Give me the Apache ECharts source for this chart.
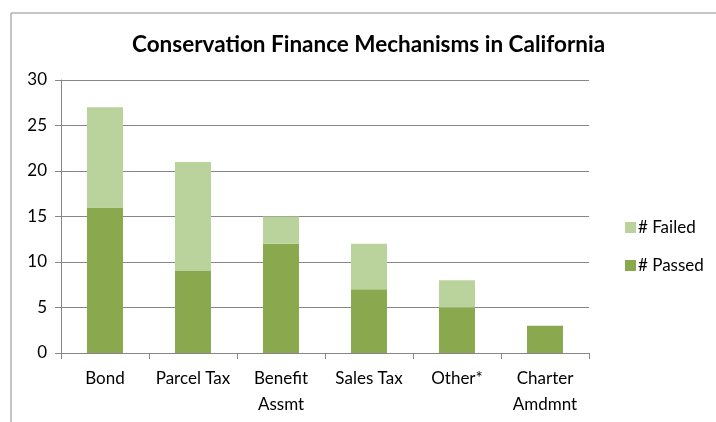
<!DOCTYPE html>
<html><head><meta charset="utf-8">
<script src="https://cdn.jsdelivr.net/npm/echarts@6/dist/echarts.min.js"></script>
<style>html,body{margin:0;padding:0;background:#fff}#c{width:716px;height:422px}</style>
</head><body><div id="c"></div>
<script>
const categories = ['Bond', 'Parcel Tax', 'Benefit\nAssmt', 'Sales Tax', 'Other*', 'Charter\nAmdmnt'];
const passed = [16, 9, 12, 7, 5, 3];
const failed = [11, 12, 3, 5, 3, 0];
const yTicks = [0, 5, 10, 15, 20, 25, 30];

const FONT = 'Lato, "Open Sans", sans-serif';
const chart = echarts.init(document.getElementById('c'), null, {renderer: 'canvas'});
chart.setOption({
  animation: false,
  backgroundColor: '#fff',
  graphic: [{
    type: 'rect', left: 8.5, top: 10.5,
    shape: {width: 720, height: 420},
    style: {fill: 'none', stroke: '#8c8c8c', lineWidth: 1}
  }],
  title: {
    text: 'Conservation Finance Mechanisms in California',
    left: 127, top: 28,
    textStyle: {fontFamily: FONT, fontSize: 22.5, fontWeight: 'bold', color: '#000'}
  },
  legend: {
    orient: 'vertical', left: 620, top: 214,
    itemWidth: 11, itemHeight: 11, itemGap: 21,
    icon: 'rect',
    textStyle: {fontFamily: FONT, fontSize: 17, color: '#000', padding: [0, 0, 0, -3]},
    data: ['# Failed', '# Passed']
  },
  grid: {left: 61, right: 127, top: 80, bottom: 69, containLabel: false},
  xAxis: {
    type: 'category', data: categories,
    axisLine: {lineStyle: {color: '#868686'}},
    axisTick: {show: true, length: 6, lineStyle: {color: '#868686'}, alignWithLabel: false},
    axisLabel: {fontFamily: FONT, fontSize: 17, color: '#000', margin: 13, lineHeight: 26, interval: 0},
    splitLine: {show: false}
  },
  yAxis: {
    type: 'value', min: yTicks[0], max: yTicks[yTicks.length - 1], interval: 5,
    axisLine: {show: true, lineStyle: {color: '#868686'}},
    axisTick: {show: true, length: 6, lineStyle: {color: '#868686'}},
    axisLabel: {fontFamily: FONT, fontSize: 17, color: '#000', margin: 14},
    splitLine: {show: true, lineStyle: {color: '#868686'}}
  },
  series: [
    {name: '# Passed', type: 'bar', stack: 's', data: passed, barWidth: 36,
     itemStyle: {color: '#8aa84e'}},
    {name: '# Failed', type: 'bar', stack: 's', data: failed, barWidth: 36,
     itemStyle: {color: '#bad29b'}}
  ]
});
</script></body></html>
